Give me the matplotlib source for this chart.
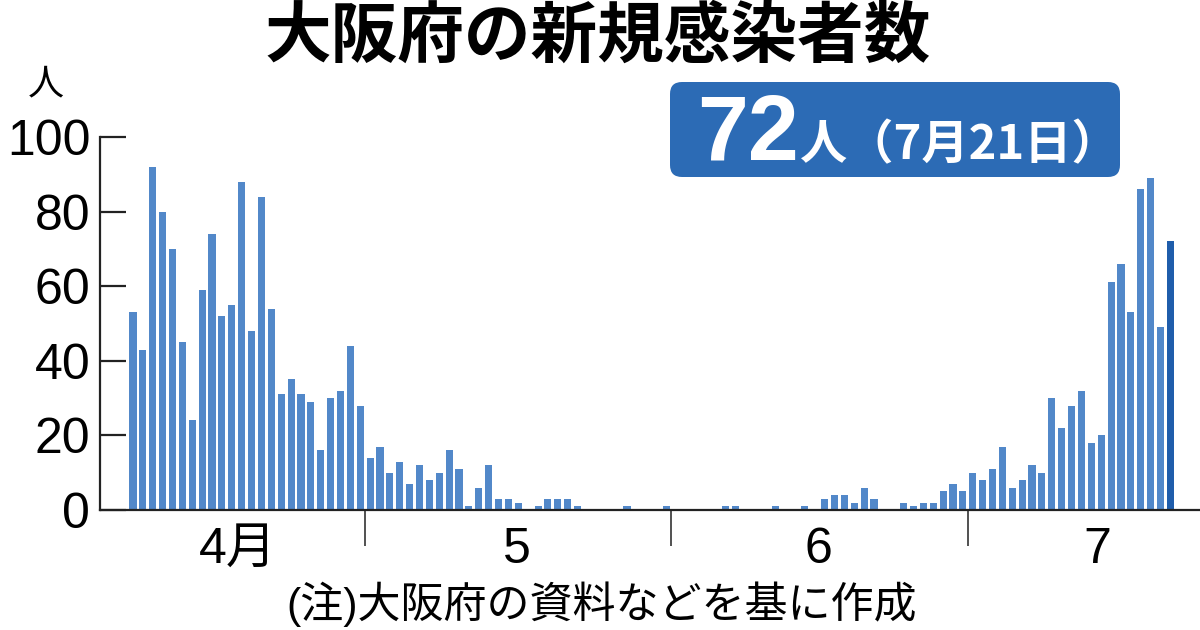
import numpy as np
import matplotlib.pyplot as plt
from matplotlib.patches import FancyBboxPatch
from matplotlib import font_manager

# daily new cases in Osaka, Apr 7 - Jul 21
apr = [53, 43, 92, 80, 70, 45, 24, 59, 74, 52, 55, 88, 48, 84, 54, 31, 35, 31, 29, 16, 30, 32, 44, 28]
may = [14, 17, 10, 13, 7, 12, 8, 10, 16, 11, 1, 6, 12, 3, 3, 2, 0, 1, 3, 3, 3, 1, 0, 0, 0, 0, 1, 0, 0, 0, 1]
jun = [0, 0, 0, 0, 0, 1, 1, 0, 0, 0, 1, 0, 0, 1, 0, 3, 4, 4, 2, 6, 3, 0, 0, 2, 1, 2, 2, 5, 7, 5]
jul = [10, 8, 11, 17, 6, 8, 12, 10, 30, 22, 28, 32, 18, 20, 61, 66, 53, 86, 89, 49, 72]
month_names = ['4月', '5', '6', '7']
yticks = [0, 20, 40, 60, 80, 100]

values = np.array(apr + may + jun + jul)
x = np.arange(len(values))
bounds = np.cumsum([len(apr), len(may), len(jun)]) - 0.5

names = {f.name for f in font_manager.fontManager.ttflist}
num_font = 'Liberation Sans Narrow' if 'Liberation Sans Narrow' in names else 'Liberation Sans'
jp = 'Noto Sans CJK JP'
plt.rcParams['font.family'] = [num_font, jp, 'DejaVu Sans']

fig = plt.figure(figsize=(12, 6.3), dpi=100)
ax = fig.add_axes([100 / 1200, 120 / 630, 1100 / 1200, 373 / 630])

colors = ['#5288c9'] * (len(values) - 1) + ['#1f5dab']
ax.bar(x, values, width=0.72, color=colors)

ax.set_xlim(-3.34, 108.0)
ax.set_ylim(0, 100)
for s in ['top', 'right']:
    ax.spines[s].set_visible(False)
for s in ['left', 'bottom']:
    ax.spines[s].set_linewidth(1.6)
    ax.spines[s].set_color('#222222')

ax.set_yticks(yticks)
ax.set_yticklabels([str(v) for v in yticks], fontsize=36)
ax.tick_params(axis='y', direction='in', length=19, width=1.6, color='#222222', pad=7)

ax.set_xticks(bounds)
ax.set_xticklabels([])
ax.tick_params(axis='x', which='major', direction='out', length=26, width=1.2, color='#333333')
label_pos = [10.6, 38.9, 69.4, 97.6]
ax.set_xticks(label_pos, minor=True)
ax.set_xticklabels(month_names, minor=True, fontsize=36)
ax.tick_params(axis='x', which='minor', length=0, pad=12)

# overlay for texts in pixel coords
ov = fig.add_axes([0, 0, 1, 1])
ov.set_xlim(0, 1200)
ov.set_ylim(630, 0)
ov.axis('off')

ov.text(598, 37, '大阪府の新規感染者数', family=[jp], fontsize=48, fontweight='bold',
        ha='center', va='center')
ov.text(46, 84, '人', family=[jp], fontsize=26, ha='center', va='center')

ov.add_patch(FancyBboxPatch((670, 82), 450, 95, boxstyle='round,pad=0,rounding_size=12',
                            facecolor='#2c6bb5', edgecolor='none'))
ov.text(697, 160, '72', family=['Liberation Sans', 'DejaVu Sans'], fontsize=66,
        fontweight='bold', color='white', va='baseline')
ov.text(800, 159, '人（7月21日）', family=[jp], fontsize=34, fontweight='bold',
        color='white', va='baseline')

ov.text(602, 604, '(注)大阪府の資料などを基に作成', family=[num_font, jp], fontsize=31,
        ha='center', va='center')

fig.savefig('out.png', dpi=100)
